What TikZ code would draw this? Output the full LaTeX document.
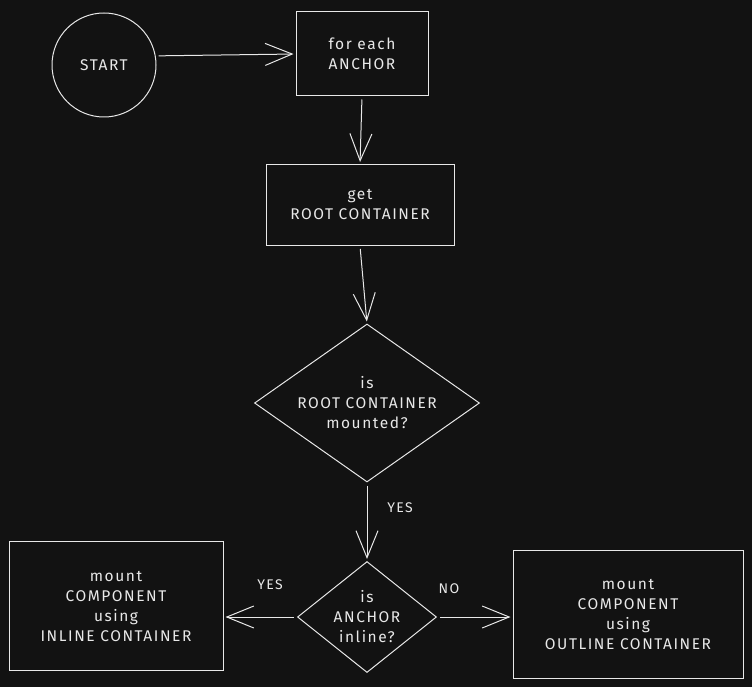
\documentclass[tikz,border=0pt]{standalone}
\usepackage{fontspec}
\setmainfont{Fira Sans}[LetterSpace=10]
\usepackage{tikz}
\usetikzlibrary{arrows.meta,shapes.geometric}
\definecolor{bgdark}{HTML}{121212}
\definecolor{ink}{HTML}{E8E8E8}

\begin{document}
\begin{tikzpicture}[x=1pt,y=-1pt,
    font=\fontsize{15.5}{20}\selectfont,
    every node/.style={text=ink},
    stepbox/.style={draw=ink,line width=1pt,rectangle,align=center,inner sep=0pt},
    decision/.style={draw=ink,line width=1pt,diamond,inner sep=0pt},
    flow/.style={draw=ink,line width=1pt,shorten <=3pt,shorten >=2pt,
      -{Straight Barb[length=27pt,width=22pt,line width=1pt]}},
    lbl/.style={font=\fontsize{14}{16}\selectfont}]
  % --- canvas ---
  \fill[bgdark] (0,0) rectangle (752,687);
  \useasboundingbox (0,0) rectangle (752,687);
  % --- steps ---
  \node[draw=ink,line width=1pt,circle,minimum size=104pt,inner sep=0pt] (start) at (104,65) {START};
  \node[stepbox,minimum width=132pt,minimum height=84pt] (foreach) at (362,54) {for each\\ANCHOR};
  \node[stepbox,minimum width=188pt,minimum height=81pt] (getroot) at (360,205) {get\\ROOT CONTAINER};
  % decisions: text set as centre label so the diamond keeps its size
  \node[decision,minimum width=225pt,minimum height=158pt,
    label={[align=center]center:is\\ROOT CONTAINER\\mounted?}] (ismounted) at (367,403) {};
  \node[decision,minimum width=139pt,minimum height=111pt,
    label={[align=center]center:is\\ANCHOR\\inline?}] (isinline) at (367,617) {};
  \node[stepbox,minimum width=214pt,minimum height=129pt] (mountinline) at (116,606)
    {mount\\COMPONENT\\using\\INLINE CONTAINER};
  \node[stepbox,minimum width=230pt,minimum height=128pt] (mountoutline) at (628,614)
    {mount\\COMPONENT\\using\\OUTLINE CONTAINER};
  % --- connectors ---
  \draw[flow] (start.10) -- (foreach.west);
  \draw[flow] (foreach.south) -- (getroot.north);
  \draw[flow] (getroot.south) -- (ismounted.north);
  \draw[flow] (ismounted.south) -- (isinline.north);
  \draw[flow] (isinline.west) -- (mountinline.east |- isinline.west);
  \draw[flow] (isinline.east) -- (mountoutline.west |- isinline.east);
  % --- branch labels ---
  \node[lbl] (yesdown) at (400,508) {YES};
  \node[lbl] (yesleft) at (270,585) {YES};
  \node[lbl] (noright) at (449,589) {NO};
\end{tikzpicture}
\end{document}
